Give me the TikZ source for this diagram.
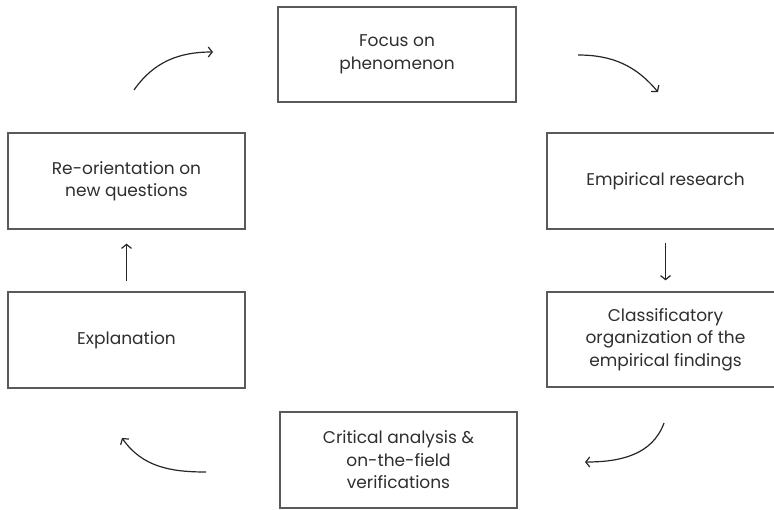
\documentclass[tikz,border=0pt]{standalone}
\usepackage{fontspec}
\setmainfont{Poppins}
\usepackage{xcolor}
\usepackage{tikz}
\usetikzlibrary{arrows.meta, positioning, calc}

\definecolor{boxline}{HTML}{5A5A5A}
\definecolor{boxtext}{HTML}{2E2E2E}

\tikzset{
  stagebox/.style={draw=boxline, line width=1.3pt, minimum width=237pt,
    minimum height=96pt, align=center, text=boxtext, font=\fontsize{17}{22.5}\selectfont},
  flowarrow/.style={draw=black!85, line width=1.2pt,
    -{Straight Barb[length=4pt, width=10pt]}}
}

\begin{document}
\begin{tikzpicture}[x=1pt, y=1pt]

% Canvas
\useasboundingbox (0,0) rectangle (774,-509);

% Stages
\node[stagebox, minimum width=238pt, minimum height=95pt] (focus) at (397,-54.5) {Focus on\\phenomenon};
\node[stagebox] (reorient) at (126.5,-181) {Re-orientation on\\new questions};
\node[stagebox] (empirical) at (665.5,-181) {Empirical research};
\node[stagebox] (explan) at (126.5,-340) {Explanation};
\node[stagebox, minimum height=95pt] (classif) at (665.5,-339.5) {Classificatory\\organization of the\\empirical findings};
\node[stagebox] (critical) at (398.5,-460) {Critical analysis \&\\on-the-field\\verifications};

% Free ends of the curved arrows
\coordinate (tlA) at (134,-90);
\coordinate (tlB) at (213,-52);
\coordinate (trA) at (578,-55);
\coordinate (trB) at (658,-92);
\coordinate (brA) at (664,-423);
\coordinate (brB) at (585,-462);
\coordinate (blA) at (206,-472);
\coordinate (blB) at (122,-438);

% Curved arrows
\draw[flowarrow] (tlA) to[out=55, in=180] (tlB);
\draw[flowarrow] (trA) to[out=0, in=130] (trB);
\draw[flowarrow] (brA) to[out=-110, in=0] (brB);
\draw[flowarrow] (blA) to[out=180, in=-55] (blB);

% Straight arrows
\draw[flowarrow, shorten <=13pt, shorten >=11pt] (empirical) -- (classif);
\draw[flowarrow, shorten <=10pt, shorten >=14pt] (explan) -- (reorient);

\end{tikzpicture}
\end{document}
